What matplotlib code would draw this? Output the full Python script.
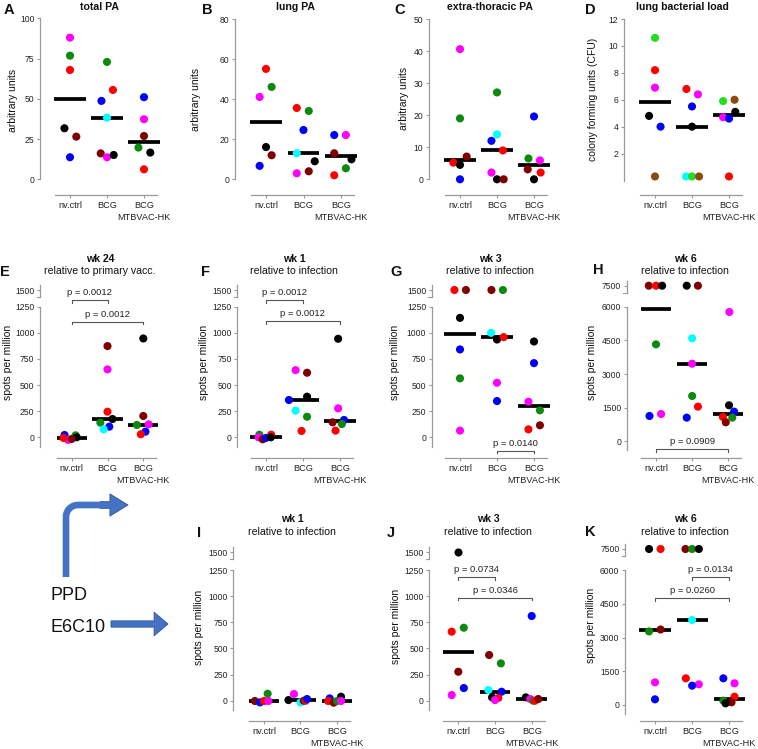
import numpy as np
import matplotlib.pyplot as plt
from matplotlib.transforms import Affine2D
from matplotlib.patches import FancyArrowPatch

plt.rcParams['font.family'] = ['Liberation Sans', 'DejaVu Sans']

groups = ['nv.ctrl', 'BCG', 'BCG\nMTBVAC-HK']
palette = {'r': '#ff0000', 'g': '#0b8a0b', 'm': '#ff00ff', 'b': '#0000ff', 'k': '#000000',
           'd': '#800000', 'c': '#00ffff', 'l': '#22dd22', 'o': '#8b4a0f'}

# ---- data: values per group, animal colour per point, horizontal jitter (category units)
A_vals = [[88.0, 76.8, 67.9, 31.7, 26.5, 13.7], [72.9, 55.5, 48.7, 38.3, 16.1, 13.7, 15.1], [51.0, 37.3, 26.9, 19.7, 16.6, 6.2]]
A_cols = ['mgrkdb', 'grbcdmk', 'bmdgkr']
A_jit = [[0, 0, 0, -0.15, 0.17, 0], [0, 0.16, -0.15, 0, -0.17, 0, 0.18], [0, 0, 0, -0.15, 0.17, 0]]

B_vals = [[55.1, 46.1, 41.1, 16.1, 12.0, 6.7], [35.6, 34.1, 24.6, 13.0, 9.0, 4.0, 3.0], [22.1, 22.1, 13.0, 10.0, 5.5, 2.0]]
B_cols = ['rgmkdb', 'rgbckdm', 'bmdkgr']
B_jit = [[0, 0.15, -0.17, 0, 0.15, -0.17], [-0.18, 0.14, 0, -0.18, 0.3, 0.14, -0.18], [-0.18, 0.13, -0.18, 0.28, 0.13, -0.18]]

C_vals = [[40.6, 19.0, 7.1, 5.2, 4.5, 0], [27.1, 14.0, 12.0, 9.0, 2.1, 0, 0], [19.6, 6.5, 5.9, 3.1, 2.1, 0]]
C_cols = ['mgdrkb', 'gcbrmkd', 'bgmdrk']
C_jit = [[0, 0, 0.18, -0.18, 0, 0], [0, 0, -0.15, 0.16, -0.15, 0, 0.18], [0, -0.15, 0.16, -0.17, 0.18, 0]]

D_vals = [[10.6, 8.2, 6.9, 4.8, 4.0, 0.3], [6.8, 6.4, 5.5, 4.0, 0.3, 0.3, 0.3], [5.9, 6.0, 5.1, 4.7, 4.6, 0.3]]
D_cols = ['lrmkbo', 'rmbkclo', 'lokmbr']
D_jit = [[0, 0, 0, -0.16, 0.15, 0], [-0.15, 0.16, 0, 0, -0.16, 0, 0.19], [-0.16, 0.15, 0.17, -0.16, 0, 0]]

E_vals = [[22, -25, -6, 19, 0, -16], [873, 650, 245, 175, 140, 102, 76], [946, 204, 118, 124, 54, 29]]
E_cols = ['bmrgkd', 'dmrkgbc', 'kdgmbr']
E_jit = [[-0.2, -0.1, -0.23, 0.11, 0.14, 0], [0, 0, 0, 0.14, -0.2, 0.05, -0.11], [0, 0, -0.18, 0.15, 0.06, -0.07]]
E_p = [(0, 1, 1314, 'p = 0.0012'), (0, 2, 1106, 'p = 0.0012')]

F_vals = [[25, 0, -19, -6, 25, 0], [643, 618, 389, 357, 255, 197, 61], [943, 277, 166, 143, 127, 64]]
F_cols = ['gmdbrk', 'mdkbcgr', 'kmbdgr']
F_jit = [[-0.18, -0.2, -0.09, 0, 0.14, 0.13], [-0.2, 0.11, 0.11, -0.38, -0.2, 0.11, -0.04], [-0.05, -0.05, 0.11, -0.2, 0.05, -0.12]]
F_p = [(0, 1, 1315, 'p = 0.0012'), (0, 2, 1112, 'p = 0.0012')]

G_vals = [[1500, 1500, 1143, 841, 564, 64], [1500, 1500, 1000, 936, 959, 522, 347], [917, 710, 341, 258, 115, 76]]
G_cols = ['rdkbgm', 'dgckrmb', 'kbmgdr']
G_jit = [[-0.15, 0.16, 0, 0, 0, 0], [-0.15, 0.16, -0.16, 0, 0.18, 0, 0], [0, 0, -0.15, 0.16, 0.16, -0.15]]
G_p = [(1, 2, -128, 'p = 0.0140')]

H_vals = [[7500, 7500, 7500, 4322, 1218, 1129], [7500, 7500, 4590, 3460, 2020, 1545, 1055], [5765, 1605, 1322, 1085, 1055, 847]]
H_cols = ['drkgmb', 'kdcmgrb', 'mkbrgd']
H_jit = [[-0.2, 0, 0.17, 0, 0.14, -0.18], [-0.15, 0.16, 0, 0, 0, 0.16, -0.15], [0.03, 0.02, 0.16, -0.15, 0.11, -0.07]]
H_p = [(0, 2, -357, 'p = 0.0909')]

I_vals = [[-3, -16, -3, -3, 67], [64, 6, -16, 0, 0, 16], [22, 38, -3, -19, -3, -3]]
I_cols = ['dbrmg', 'mkcdrb', 'bkrdgm']
I_jit = [[-0.25, -0.11, 0, 0.12, 0.1], [-0.18, -0.33, 0, 0.09, 0.14, 0.18], [-0.2, 0.11, -0.24, -0.09, 0, 0.11]]

J_vals = [[1500, 698, 660, 277, 121, 54], [437, 357, 102, 86, 32, 26, 6], [810, 32, 16, 0, 0, 16]]
J_cols = ['kgrdbm', 'dgcbkrm', 'bkmgrd']
J_jit = [[0, 0.15, -0.18, 0, 0.15, -0.18], [-0.16, 0.16, -0.18, 0.18, -0.08, 0.09, 0], [0, -0.16, -0.04, 0.04, 0.09, 0.18]]
J_p = [(0, 1, 1179, 'p = 0.0734'), (0, 2, 985, 'p = 0.0346')]

K_vals = [[7500, 7500, 3355, 3270, 1007, 252], [7500, 7500, 7500, 3778, 1185, 919, 859], [1185, 963, 370, 193, 119, 74]]
K_cols = ['krdgmb', 'dgkcrmb', 'bmrgdk']
K_jit = [[-0.16, 0.15, 0.15, -0.16, 0, 0], [-0.18, 0, 0.18, 0, -0.17, 0.18, 0], [-0.16, 0.14, 0.14, -0.16, 0.06, -0.1]]
K_p = [(1, 2, 5676, 'p = 0.0134'), (0, 2, 4742, 'p = 0.0260')]

W, H = 758, 749
fig = plt.figure(figsize=(W / 100, H / 100), dpi=100)
pix = Affine2D().scale(1 / W, -1 / H).translate(0, 1) + fig.transFigure
SPINE = '#9a9a9a'


def rect(left, top, right, bottom):
    return [left / W, 1 - bottom / H, (right - left) / W, (bottom - top) / H]


def style_y(ax, ticks):
    ax.set_yticks(ticks)
    ax.tick_params(axis='y', length=2.5, width=0.8, color=SPINE, labelsize=6.2, pad=1.5, labelcolor='#222')


def panel(vals, cols, jit, sx, c0, c2, top, zero, base, topv, yticks, lo,
          cap=None, cap_px=None, pvals=()):
    unit = (c2 - c0) / 2
    scale = (zero - top) / topv
    xlim = (-(c0 - sx) / unit, 2 + 16 / unit)
    ax = fig.add_axes(rect(sx, top, c2 + 16, base))
    ax.set_xlim(xlim)
    ax.set_ylim(-(base - zero) / scale, topv)
    ax.patch.set_alpha(0)
    for s in ['top', 'right']:
        ax.spines[s].set_visible(False)
    for s in ['left', 'bottom']:
        ax.spines[s].set_color(SPINE)
        ax.spines[s].set_linewidth(0.9)
    ax.spines['left'].set_bounds(lo, topv)
    ax.spines['bottom'].set_bounds(-15 / unit, 2 + 13 / unit)
    style_y(ax, yticks)
    ax.set_xticks([0, 1, 2])
    ax.set_xticklabels(groups, fontsize=6.6, linespacing=1.45)
    ax.tick_params(axis='x', length=2.5, width=0.8, color=SPINE, pad=1.5, labelcolor='#222')

    ax2 = None
    if cap is not None:
        ax2 = fig.add_axes(rect(sx, cap_px - 5, c2 + 16, cap_px + 7))
        ax2.set_xlim(xlim)
        ax2.set_ylim(cap - 7 / scale, cap + 5 / scale)
        ax2.patch.set_alpha(0)
        for s in ['top', 'right', 'bottom']:
            ax2.spines[s].set_visible(False)
        ax2.spines['left'].set_color(SPINE)
        ax2.spines['left'].set_linewidth(0.9)
        ax2.set_xticks([])
        style_y(ax2, [cap])
        # break mark at the foot of the upper segment
        fig.add_artist(plt.Line2D([sx - 3.5, sx], [cap_px + 7, cap_px + 7], transform=pix,
                                  color=SPINE, lw=0.8))

    for i, (v, c, j) in enumerate(zip(vals, cols, jit)):
        v = np.array(v, dtype=float)
        x = i + np.array(j)
        colours = np.array([palette[k] for k in c])
        med = np.median(v)
        ax.plot([i - 0.42, i + 0.42], [med, med], color='k', lw=2.7, solid_capstyle='butt', zorder=2)
        hi = v >= cap if cap is not None else np.zeros(len(v), bool)
        ax.scatter(x[~hi], v[~hi], s=34, c=colours[~hi], linewidths=0, zorder=3, clip_on=False)
        if hi.any():
            ax2.scatter(x[hi], v[hi], s=34, c=colours[hi], linewidths=0, zorder=3, clip_on=False)

    tick = 2.7 / scale
    for a, b, y, txt in pvals:
        ax.plot([a, a, b, b], [y - tick, y, y, y - tick], color='#555', lw=0.8, clip_on=False)
        ax.annotate(txt, xy=((a + b) / 2, y), xytext=(0, 2.2), textcoords='offset points',
                    ha='center', va='bottom', fontsize=6.8, color='#222', annotation_clip=False)
    return ax


def ftext(x, y, s, **kw):
    fig.text(x, y, s, transform=pix, ha='center', va='center', **kw)


t_spm = list(range(0, 1251, 250))
t_spm6 = list(range(0, 6001, 1500))

# top row
panel(A_vals, A_cols, A_jit, 40, 70, 144, 18.3, 179.3, 195, 100, [0, 25, 50, 75, 100], 0)
panel(B_vals, B_cols, B_jit, 235, 266, 341, 19, 179.3, 195, 80, [0, 20, 40, 60, 80], 0)
panel(C_vals, C_cols, C_jit, 429, 460, 534, 19, 179.3, 195, 50, [0, 10, 20, 30, 40, 50], 0)
panel(D_vals, D_cols, D_jit, 624, 655, 729, 19, 180.5, 195, 12, [2, 4, 6, 8, 10, 12], 0)

# middle row
panel(E_vals, E_cols, E_jit, 40, 71.7, 143.3, 306.7, 437.3, 458.3, 1250, t_spm, -90, 1500, 290, E_p)
panel(F_vals, F_cols, F_jit, 237.3, 266, 340, 306.7, 437.3, 458.3, 1250, t_spm, -90, 1500, 290, F_p)
panel(G_vals, G_cols, G_jit, 431.7, 460, 534, 306.7, 437.3, 458.3, 1250, t_spm, -90, 1500, 290, G_p)
panel(H_vals, H_cols, H_jit, 626.7, 656, 728.3, 306.7, 441.3, 458.3, 6000, t_spm6, -400, 7500, 285.7, H_p)

# bottom row
panel(I_vals, I_cols, I_jit, 233.3, 264, 337, 570, 700.7, 721, 1250, t_spm, -90, 1500, 552.3)
panel(J_vals, J_cols, J_jit, 429.3, 458.3, 531.7, 570, 700.7, 721, 1250, t_spm, -90, 1500, 552.3, J_p)
panel(K_vals, K_cols, K_jit, 625, 655, 729.3, 570, 705, 721, 6000, t_spm6, -400, 7500, 549, K_p)

# titles
bold = dict(fontsize=7.6, fontweight='bold', color='#111')
reg = dict(fontsize=7.6, color='#111')
for x, s in [(100, 'total PA'), (295, 'lung PA'), (490, 'extra-thoracic PA'), (682, 'lung bacterial load')]:
    ftext(x, 7, s, **bold)
for x, y, s, sub in [(100, 258.5, 'wk 24', 'relative to primary vacc.'), (294, 258.5, 'wk 1', 'relative to infection'),
                     (490, 258.5, 'wk 3', 'relative to infection'), (685, 258.5, 'wk 6', 'relative to infection'),
                     (292, 519.5, 'wk 1', 'relative to infection'), (488, 519.5, 'wk 3', 'relative to infection'),
                     (685, 519.5, 'wk 6', 'relative to infection')]:
    ftext(x, y, s, **bold)
    ftext(x, y + 12.5, sub, **reg)

# y labels
for x, y, s in [(12.5, 100, 'arbitrary units'), (196, 99, 'arbitrary units'), (404, 98, 'arbitrary units'),
                (593, 99, 'colony forming units (CFU)'),
                (8, 362.5, 'spots per million'), (204, 362.5, 'spots per million'), (395, 362.5, 'spots per million'),
                (592, 362.5, 'spots per million'), (199, 627, 'spots per million'), (396, 626, 'spots per million'),
                (591, 625, 'spots per million')]:
    ftext(x, y, s, rotation=90, fontsize=7.5, color='#111')

# panel letters
for x, y, s in [(9, 10.5, 'A'), (207, 10.5, 'B'), (400, 10.5, 'C'), (590, 10.5, 'D'),
                (5, 272, 'E'), (206, 272, 'F'), (396, 272, 'G'), (598, 270, 'H'),
                (199, 533, 'I'), (391, 533, 'J'), (590, 532, 'K')]:
    ftext(x, y, s, fontsize=10.5, fontweight='bold', color='#111')

# PPD / E6C10 arrows
BLUE = '#4472c4'
r = 12
ang = np.linspace(np.pi, np.pi / 2, 20)
bend_x = np.concatenate([[66, 66], 66 + r + r * np.cos(ang), [101]])
bend_y = np.concatenate([[577, 505 + r], 505 + r - r * np.sin(ang), [505]])
fig.add_artist(plt.Line2D(bend_x, bend_y, transform=pix, color=BLUE, lw=4.8,
                          solid_capstyle='butt', solid_joinstyle='round'))
arrow_kw = dict(transform=pix, facecolor=BLUE, edgecolor='#2f5597', lw=0.6, shrinkA=0, shrinkB=0)
fig.add_artist(FancyArrowPatch((100, 505), (128, 505),
                               arrowstyle='simple,head_width=16,head_length=13,tail_width=4.8', **arrow_kw))
fig.add_artist(FancyArrowPatch((111, 624), (168, 624),
                               arrowstyle='simple,head_width=17,head_length=10,tail_width=4.5', **arrow_kw))
fig.text(51, 595, 'PPD', transform=pix, ha='left', va='center', fontsize=13, color='#111')
fig.text(51, 627, 'E6C10', transform=pix, ha='left', va='center', fontsize=13, color='#111')

fig.savefig('out.png', dpi=100)
